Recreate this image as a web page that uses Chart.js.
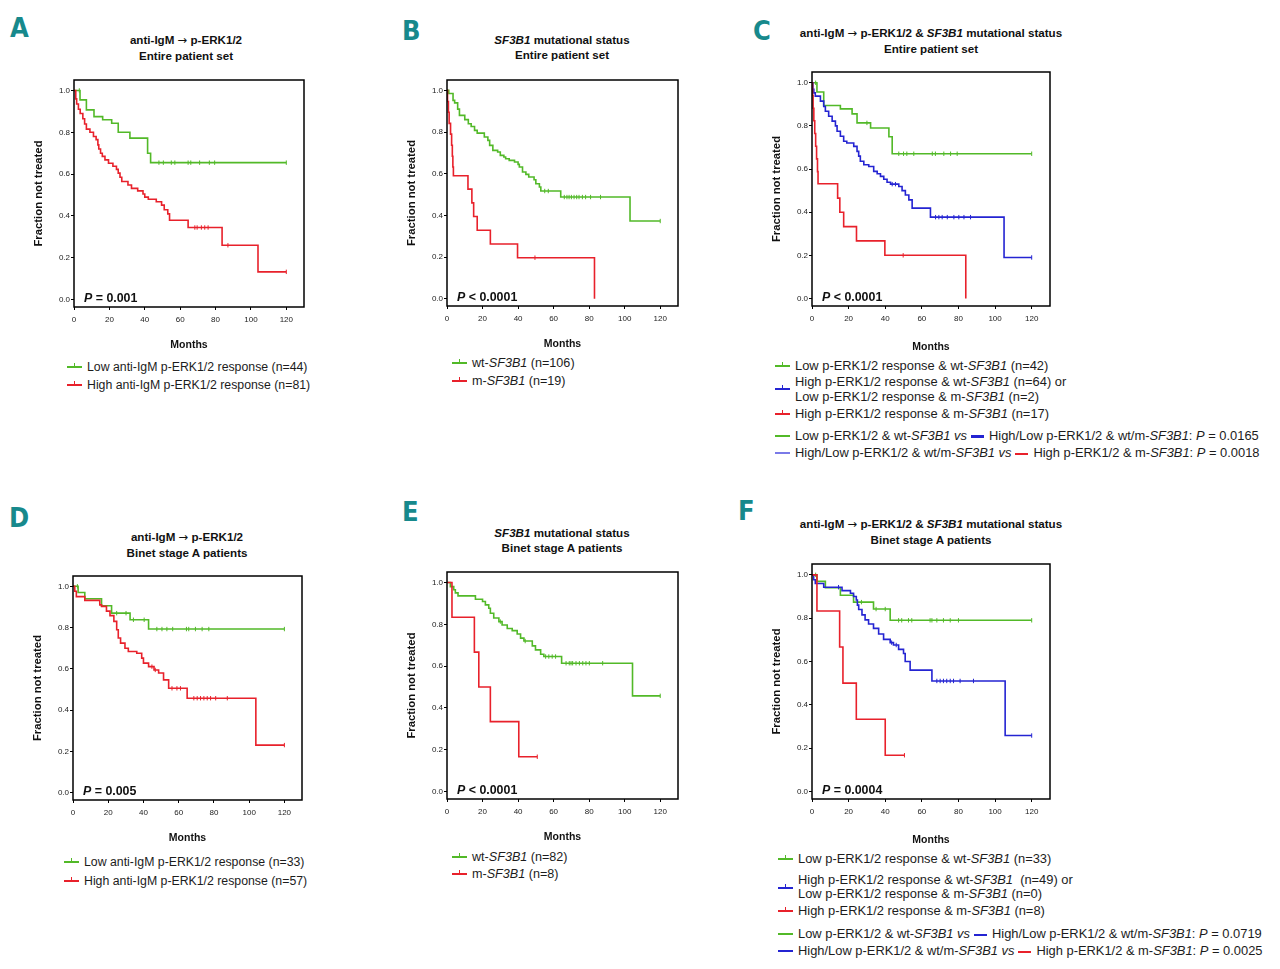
<!DOCTYPE html>
<html>
<head>
<meta charset="utf-8">
<script src="https://cdn.jsdelivr.net/npm/chart.js@4.4.1/dist/chart.umd.min.js"></script>
<style>
body { margin: 0; width: 1280px; height: 969px; background: #fff; position: relative; overflow: hidden;
  font-family: "Liberation Sans", Arial, sans-serif; color: #1c1c1c; }
.abs { position: absolute; }
.letter { font-family: "Liberation Sans Narrow", "DejaVu Sans Condensed", "Liberation Sans", sans-serif;
  font-weight: bold; font-size: 27px; line-height: 27px; color: #17898c; }
.title { font-weight: bold; font-size: 11.6px; line-height: 15px; text-align: center; white-space: nowrap; color: #111; }
.arr { font-family: "DejaVu Sans", sans-serif; font-weight: normal; }
.leg { font-size: 12.3px; line-height: 14px; white-space: nowrap; }
.big { font-size: 12.9px; }
.mk { position: absolute; left: -20px; top: 6px; width: 15px; height: 2px; }
.mk i { position: absolute; left: 7px; top: -3px; width: 1px; height: 3px; background: inherit; }
.mi { display: inline-block; vertical-align: middle; width: 13px; height: 2px; margin: 0 5px 0 4px; }
canvas { position: absolute; }
</style>
</head>
<body>

<div class="letter abs" style="left:10px;top:14px">A</div>
<div class="letter abs" style="left:402px;top:17px">B</div>
<div class="letter abs" style="left:753px;top:17px">C</div>
<div class="letter abs" style="left:9px;top:504px">D</div>
<div class="letter abs" style="left:402px;top:498px">E</div>
<div class="letter abs" style="left:738px;top:497px">F</div>

<div class="title abs" style="left:86px;width:200px;top:32px">anti-IgM <span class="arr">&rarr;</span> p-ERK1/2<br>Entire patient set</div>
<div class="title abs" style="left:462px;width:200px;top:32px"><i>SF3B1</i> mutational status<br>Entire patient set</div>
<div class="title abs" style="left:781px;width:300px;top:25px">anti-IgM <span class="arr">&rarr;</span> p-ERK1/2 &amp; <i>SF3B1</i> mutational status<br>Entire patient set</div>
<div class="title abs" style="left:87px;width:200px;top:529px">anti-IgM <span class="arr">&rarr;</span> p-ERK1/2<br>Binet stage A patients</div>
<div class="title abs" style="left:462px;width:200px;top:525px"><i>SF3B1</i> mutational status<br>Binet stage A patients</div>
<div class="title abs" style="left:781px;width:300px;top:516px">anti-IgM <span class="arr">&rarr;</span> p-ERK1/2 &amp; <i>SF3B1</i> mutational status<br>Binet stage A patients</div>

<canvas id="cA"></canvas>
<canvas id="cB"></canvas>
<canvas id="cC"></canvas>
<canvas id="cD"></canvas>
<canvas id="cE"></canvas>
<canvas id="cF"></canvas>

<!-- legends A -->
<div class="leg abs" style="left:87px;top:360px"><span class="mk" style="background:#52b928"><i></i></span>Low anti-IgM p-ERK1/2 response (n=44)</div>
<div class="leg abs" style="left:87px;top:378px"><span class="mk" style="background:#e8212b"><i></i></span>High anti-IgM p-ERK1/2 response (n=81)</div>
<!-- legends B -->
<div class="leg abs" style="left:472px;top:356px;font-size:12.6px"><span class="mk" style="background:#52b928"><i></i></span>wt-<i>SF3B1</i> (n=106)</div>
<div class="leg abs" style="left:472px;top:374px;font-size:12.6px"><span class="mk" style="background:#e8212b"><i></i></span>m-<i>SF3B1</i> (n=19)</div>
<!-- legends C -->
<div class="leg big abs" style="left:795px;top:359px"><span class="mk" style="background:#52b928"><i></i></span>Low p-ERK1/2 response &amp; wt-<i>SF3B1</i> (n=42)</div>
<div class="leg big abs" style="left:795px;top:375px"><span class="mk" style="background:#2424d2;top:13px"><i></i></span>High p-ERK1/2 response &amp; wt-<i>SF3B1</i> (n=64) or</div>
<div class="leg big abs" style="left:795px;top:390px">Low p-ERK1/2 response &amp; m-<i>SF3B1</i> (n=2)</div>
<div class="leg big abs" style="left:795px;top:407px"><span class="mk" style="background:#e8212b"><i></i></span>High p-ERK1/2 response &amp; m-<i>SF3B1</i> (n=17)</div>
<div class="leg big abs" style="left:795px;top:429px"><span class="mk" style="background:#52b928"></span>Low p-ERK1/2 &amp; wt-<i>SF3B1 vs</i><span class="mi" style="background:#2424d2;height:3px"></span>High/Low p-ERK1/2 &amp; wt/m-<i>SF3B1</i>: <i>P</i> = 0.0165</div>
<div class="leg big abs" style="left:795px;top:446px"><span class="mk" style="background:#7a7ae8"></span>High/Low p-ERK1/2 &amp; wt/m-<i>SF3B1 vs</i><span class="mi" style="background:#e8212b"></span>High p-ERK1/2 &amp; m-<i>SF3B1</i>: <i>P</i> = 0.0018</div>
<!-- legends D -->
<div class="leg abs" style="left:84px;top:855px"><span class="mk" style="background:#52b928"><i></i></span>Low anti-IgM p-ERK1/2 response (n=33)</div>
<div class="leg abs" style="left:84px;top:874px"><span class="mk" style="background:#e8212b"><i></i></span>High anti-IgM p-ERK1/2 response (n=57)</div>
<!-- legends E -->
<div class="leg abs" style="left:472px;top:850px;font-size:12.6px"><span class="mk" style="background:#52b928"><i></i></span>wt-<i>SF3B1</i> (n=82)</div>
<div class="leg abs" style="left:472px;top:867px;font-size:12.6px"><span class="mk" style="background:#e8212b"><i></i></span>m-<i>SF3B1</i> (n=8)</div>
<!-- legends F -->
<div class="leg big abs" style="left:798px;top:852px"><span class="mk" style="background:#52b928"><i></i></span>Low p-ERK1/2 response &amp; wt-<i>SF3B1</i> (n=33)</div>
<div class="leg big abs" style="left:798px;top:873px"><span class="mk" style="background:#2424d2;top:14px"><i></i></span>High p-ERK1/2 response &amp; wt-<i>SF3B1</i>&nbsp; (n=49) or</div>
<div class="leg big abs" style="left:798px;top:887px">Low p-ERK1/2 response &amp; m-<i>SF3B1</i> (n=0)</div>
<div class="leg big abs" style="left:798px;top:904px"><span class="mk" style="background:#e8212b"><i></i></span>High p-ERK1/2 response &amp; m-<i>SF3B1</i> (n=8)</div>
<div class="leg big abs" style="left:798px;top:927px"><span class="mk" style="background:#52b928"></span>Low p-ERK1/2 &amp; wt-<i>SF3B1 vs</i><span class="mi" style="background:#2424d2"></span>High/Low p-ERK1/2 &amp; wt/m-<i>SF3B1</i>: <i>P</i> = 0.0719</div>
<div class="leg big abs" style="left:798px;top:944px"><span class="mk" style="background:#2424d2"></span>High/Low p-ERK1/2 &amp; wt/m-<i>SF3B1 vs</i><span class="mi" style="background:#e8212b"></span>High p-ERK1/2 &amp; m-<i>SF3B1</i>: <i>P</i> = 0.0025</div>

<script>
// axis ticks shared by all six panels
const xTicks = [0, 20, 40, 60, 80, 100, 120]
const yTicks = [0, 0.2, 0.4, 0.6, 0.8, 1.0]

// Kaplan-Meier steps [month, fraction not treated], censor times in months
// A: anti-IgM p-ERK1/2, entire set
const aLow = [[0,1],[3.4,0.955],[7,0.907],[11.3,0.875],[16.2,0.86],[21.3,0.843],[25,0.8],[31.6,0.772],[41.6,0.7],[43.3,0.655],[120,0.655]]
const aLowCens = [3, 48, 50.5, 55, 57, 64.5, 66, 71, 76.5, 79.5, 120]
const aHigh = [[0,1],[1,0.96],[1.5,0.935],[2.5,0.91],[3.5,0.89],[5,0.865],[6,0.84],[7,0.815],[9,0.8],[11,0.78],[12.5,0.765],[13.5,0.74],[14,0.72],[15,0.7],[16,0.685],[17.5,0.668],[19.5,0.652],[22,0.638],[24,0.623],[25,0.605],[26,0.585],[27,0.565],[30.5,0.548],[32.5,0.532],[36,0.52],[39,0.505],[40,0.49],[42,0.48],[46.5,0.468],[49.5,0.452],[51,0.43],[53,0.41],[54,0.38],[64.5,0.345],[83.7,0.26],[104,0.133],[120,0.133]]
const aHighCens = [68.3, 69.6, 72, 73.9, 75.8, 87, 120]

// B: SF3B1, entire set
const bWt = [[0,1],[1,0.985],[3.4,0.952],[4.3,0.94],[6,0.91],[7,0.88],[10,0.86],[12,0.84],[13.6,0.827],[15.5,0.808],[17,0.795],[21,0.776],[23,0.76],[24,0.736],[25.8,0.712],[28.5,0.704],[30,0.688],[32,0.68],[33,0.672],[35,0.664],[38,0.656],[40,0.645],[40.7,0.632],[42.5,0.608],[44.4,0.597],[46,0.584],[49,0.571],[50,0.552],[52,0.536],[52.8,0.517],[64,0.488],[103,0.373],[120,0.373]]
const bWtCens = [55, 57, 66, 67.5, 68.7, 70, 71.5, 73, 74.3, 76.2, 78, 80.8, 86.4, 120]
const bMut = [[0,1],[0.3,0.947],[0.8,0.895],[1.2,0.842],[2,0.79],[2.6,0.737],[3,0.684],[3.3,0.632],[3.6,0.59],[11.8,0.526],[14,0.46],[15,0.395],[17,0.329],[24.4,0.263],[39.7,0.197],[83,0]]
const bMutCens = [49.5]

// C: combined, entire set
const cLow = [[0,1],[2.7,0.957],[6.4,0.895],[15.5,0.879],[21.9,0.856],[24.6,0.814],[32,0.79],[42,0.75],[43.8,0.671],[120,0.671]]
const cLowCens = [2, 30, 47.4, 50, 51.8, 55.6, 65.7, 67.4, 72, 75.7, 79.3, 120]
const cMid = [[0,1],[0.5,0.97],[1,0.953],[1.8,0.938],[4.6,0.915],[6.4,0.89],[7.3,0.868],[9.1,0.845],[11,0.822],[12.8,0.8],[13.7,0.775],[15.5,0.752],[17.3,0.729],[19,0.721],[22.8,0.705],[24.6,0.682],[25.5,0.66],[26.4,0.636],[28.3,0.62],[31,0.612],[33.7,0.589],[35.6,0.578],[37.4,0.566],[39.2,0.553],[41,0.539],[42.9,0.53],[47.4,0.519],[49.2,0.5],[51,0.48],[52.9,0.457],[54.7,0.419],[64.7,0.377],[104.9,0.19],[120,0.19]]
const cMidCens = [43.8, 45.6, 67.5, 69.3, 71.1, 73.9, 77.5, 80.2, 83, 86.6, 120]
const cHigh = [[0,1],[0.3,0.941],[0.6,0.882],[1,0.824],[1.5,0.765],[2,0.706],[2.5,0.647],[3,0.588],[3.3,0.532],[14,0.465],[15.2,0.4],[17.3,0.333],[24.3,0.267],[39.8,0.2],[84,0]]
const cHighCens = [49.8]

// D: anti-IgM p-ERK1/2, Binet A
const dLow = [[0,1],[2.9,0.97],[6.7,0.94],[16.2,0.906],[21.9,0.87],[32.4,0.838],[42.9,0.793],[120,0.793]]
const dLowCens = [2.5, 24.8, 30.1, 34.3, 40.4, 47.6, 50.5, 53.3, 56.6, 64.4, 65.7, 69.5, 73.3, 77.1, 120]
const dHigh = [[0,1],[1,0.976],[1.9,0.95],[6.7,0.932],[15.2,0.91],[16.2,0.903],[19,0.88],[21,0.858],[23.2,0.83],[24.8,0.79],[25.7,0.75],[27,0.725],[29.5,0.7],[31.4,0.684],[36.2,0.676],[39,0.652],[40,0.628],[42.9,0.611],[46,0.595],[48.6,0.58],[51.4,0.547],[54.3,0.506],[64.8,0.458],[103.8,0.231],[120,0.231]]
const dHighCens = [44.8, 46.7, 56.2, 59, 61, 68.6, 70.5, 72.4, 74.3, 76.2, 78.1, 81, 87.6, 120]

// E: SF3B1, Binet A
const eWt = [[0,1],[1.9,0.98],[3.8,0.965],[4.7,0.95],[6.2,0.936],[16,0.92],[20,0.909],[21.6,0.893],[23.5,0.877],[24.4,0.853],[26.3,0.83],[29.2,0.813],[31,0.797],[33.9,0.78],[36.7,0.77],[39.5,0.754],[41.4,0.734],[43.3,0.72],[48,0.697],[49.8,0.678],[52.7,0.657],[54.5,0.646],[64.5,0.614],[104.4,0.458],[120,0.458]]
const eWtCens = [30, 44, 55.5, 57.3, 59.2, 61.1, 67, 68.8, 69.8, 70.7, 72.6, 74.5, 76.4, 78.2, 80.1, 87.6, 120]
const eMut = [[0,1],[2.8,0.834],[15.4,0.667],[17.9,0.5],[24.4,0.335],[40.4,0.167],[50.8,0.167]]
const eMutCens = [50.8]

// F: combined, Binet A
const fLow = [[0,1],[2.7,0.97],[7.3,0.94],[15.5,0.906],[22.7,0.874],[33.6,0.842],[42.7,0.79],[120,0.79]]
const fLowCens = [2, 27, 35, 40, 47.3, 49, 52.7, 54.5, 64.5, 65.5, 68.2, 71.8, 75.5, 80, 120]
const fMid = [[0,1],[0.9,0.977],[1.8,0.96],[6.4,0.943],[16.4,0.927],[21,0.915],[22.7,0.9],[24.2,0.884],[24.8,0.86],[25.5,0.84],[27.3,0.815],[29,0.792],[30.9,0.773],[33.6,0.753],[36.4,0.727],[39.1,0.702],[42.7,0.687],[44.5,0.676],[47.3,0.656],[50,0.637],[50.9,0.6],[53.6,0.56],[65.5,0.51],[105.5,0.258],[120,0.258]]
const fMidCens = [14.5, 43.5, 46, 68.2, 70, 71.8, 73.6, 75.5, 77.3, 80.9, 88.2, 120]
const fHigh = [[0,1],[2.7,0.833],[15.1,0.667],[16.9,0.5],[24.2,0.333],[40,0.167],[50.5,0.167]]
const fHighCens = [50.5]

const GREEN = '#52b928'
const RED = '#e8212b'
const BLUE = '#2424d2'
const FONT = '"Liberation Sans", Arial, sans-serif'

Chart.defaults.font.family = FONT
Chart.defaults.color = '#222'

// value of the step function at time t
function survAt(steps, t) {
  let s = steps[0][1]
  for (const [x, y] of steps) if (x <= t) s = y
  return s
}

function curve(steps, color) {
  return {
    data: steps.map(([x, y]) => ({ x, y })),
    borderColor: color, borderWidth: 1.6, stepped: 'before',
    pointRadius: 0, fill: false
  }
}

function censor(steps, cens, color) {
  return {
    data: cens.map(t => ({ x: t, y: survAt(steps, t) })),
    showLine: false, pointStyle: 'line', pointRotation: 90, pointRadius: 2.2,
    pointBorderWidth: 1, borderColor: color, pointBorderColor: color
  }
}

const framePlugin = {
  id: 'frame',
  afterDraw(chart, args, opts) {
    const { ctx, chartArea: a } = chart
    ctx.save()
    ctx.strokeStyle = '#000'
    ctx.lineWidth = 1.5
    ctx.strokeRect(a.left, a.top, a.right - a.left, a.bottom - a.top)
    ctx.fillStyle = '#111'
    let x = a.left + 10
    const y = a.bottom - 5
    ctx.font = 'italic bold 12.4px ' + FONT
    ctx.fillText('P', x, y)
    x += ctx.measureText('P').width
    ctx.font = 'bold 12.4px ' + FONT
    ctx.fillText(opts.text, x, y)
    ctx.restore()
  }
}

// frame = [left, top, width, height] of the plot box on the page
function makePanel(id, frame, xAxisH, pText, lines) {
  const [L, T, W, H] = frame
  const cv = document.getElementById(id)
  const cw = W + 42 + 8
  const ch = H + 6 + xAxisH
  cv.width = cw
  cv.height = ch
  cv.style.width = cw + 'px'
  cv.style.height = ch + 'px'
  cv.style.left = (L - 42) + 'px'
  cv.style.top = (T - 6) + 'px'

  const datasets = []
  lines.forEach(([steps, cens, color]) => {
    datasets.push(curve(steps, color))
    datasets.push(censor(steps, cens, color))
  })

  new Chart(cv.getContext('2d'), {
    type: 'line',
    data: { datasets },
    plugins: [framePlugin],
    options: {
      responsive: false,
      animation: false,
      events: [],
      layout: { padding: { top: 6, right: 8, left: 0, bottom: 0 } },
      plugins: {
        legend: { display: false },
        tooltip: { enabled: false },
        frame: { text: pText }
      },
      scales: {
        x: {
          type: 'linear', min: 0, max: 130,
          afterBuildTicks: s => { s.ticks = xTicks.map(v => ({ value: v })) },
          ticks: { font: { size: 8 }, color: '#222', padding: 5, maxRotation: 0, autoSkip: false },
          grid: { display: true, drawOnChartArea: false, drawTicks: true, tickLength: 3, color: '#000' },
          border: { display: false },
          title: { display: true, text: 'Months', font: { size: 10.5, weight: 'bold' }, color: '#111', padding: 0 },
          afterFit: s => { s.height = xAxisH }
        },
        y: {
          min: -0.035, max: 1.05,
          afterBuildTicks: s => { s.ticks = yTicks.map(v => ({ value: v })) },
          ticks: { font: { size: 8 }, color: '#222', padding: 1, callback: v => v.toFixed(1) },
          grid: { display: true, drawOnChartArea: false, drawTicks: true, tickLength: 3, color: '#000' },
          border: { display: false },
          title: { display: true, text: 'Fraction not treated', font: { size: 11.3, weight: 'bold' }, color: '#111', padding: 0 },
          afterFit: s => { s.width = 42 }
        }
      }
    }
  })
}

makePanel('cA', [74, 80, 230, 227], 44, ' = 0.001', [[aHigh, aHighCens, RED], [aLow, aLowCens, GREEN]])
makePanel('cB', [447, 80, 231, 226], 44, ' < 0.0001', [[bMut, bMutCens, RED], [bWt, bWtCens, GREEN]])
makePanel('cC', [812, 72, 238, 234], 47, ' < 0.0001', [[cHigh, cHighCens, RED], [cMid, cMidCens, BLUE], [cLow, cLowCens, GREEN]])
makePanel('cD', [73, 576, 229, 224], 44, ' = 0.005', [[dHigh, dHighCens, RED], [dLow, dLowCens, GREEN]])
makePanel('cE', [447, 572, 231, 227], 44, ' < 0.0001', [[eMut, eMutCens, RED], [eWt, eWtCens, GREEN]])
makePanel('cF', [812, 564, 238, 235], 47, ' = 0.0004', [[fHigh, fHighCens, RED], [fMid, fMidCens, BLUE], [fLow, fLowCens, GREEN]])
</script>
</body>
</html>
